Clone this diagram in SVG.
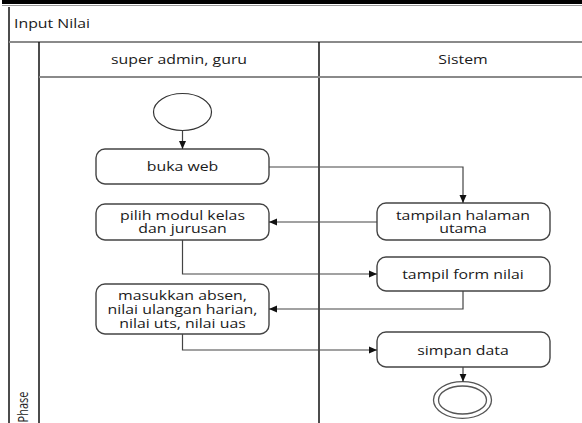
<svg xmlns="http://www.w3.org/2000/svg" width="582" height="423" viewBox="0 0 582 423">
<style>
.frame{stroke:#111;stroke-width:1.5;fill:none}
.sep{stroke:#8a8a8a;stroke-width:2;fill:none}
.box{fill:#fff;stroke:#444;stroke-width:1.4}
.conn{stroke:#444;stroke-width:1.2;fill:none}
.t{font-family:"Open Sans","Liberation Sans",sans-serif;font-size:13px;fill:#1a1a1a;text-anchor:middle}
.tl{font-family:"Open Sans","Liberation Sans",sans-serif;font-size:13px;fill:#1a1a1a}
</style>
<defs>
<marker id="ah" viewBox="0 0 8 8" refX="8" refY="4" markerWidth="8" markerHeight="8" markerUnits="userSpaceOnUse" orient="auto">
<path d="M0,0.5 L8,4 L0,7.5 Z" fill="#111"/>
</marker>
</defs>
<g id="frame">
<rect x="2" y="0" width="580" height="4" fill="#000"/>
<line x1="2" y1="5.5" x2="582" y2="5.5" stroke="#999" stroke-width="1"/>
<line class="frame" x1="9" y1="7" x2="9" y2="423"/>
<line class="sep" x1="9" y1="42" x2="582" y2="42"/>
<line class="frame" x1="39" y1="42" x2="39" y2="423"/>
<line class="frame" x1="319" y1="42" x2="319" y2="423"/>
<line class="sep" x1="39" y1="77" x2="582" y2="77"/>
<text class="tl" transform="matrix(1.22,0,0,1,14,28)">Input Nilai</text>
<text class="t" transform="matrix(1.22,0,0,1,179,64)">super admin, guru</text>
<text class="t" transform="matrix(1.22,0,0,1,463,64)">Sistem</text>
<text class="t" style="font-size:11px" transform="translate(28,407) scale(1.28,1) rotate(-90)">Phase</text>
</g>
<g id="start">
<ellipse cx="182.5" cy="112" rx="29" ry="18.5" fill="#fff" stroke="#333" stroke-width="1.2"/>
</g>
<g id="buka-web">
<rect class="box" x="96" y="149" width="173" height="35" rx="9"/>
<text class="t" transform="matrix(1.22,0,0,1,182.5,171)">buka web</text>
</g>
<g id="pilih-modul">
<rect class="box" x="96" y="204" width="173" height="36" rx="9"/>
<text class="t" transform="matrix(1.22,0,0,1,182.5,219.5)">pilih modul kelas</text>
<text class="t" transform="matrix(1.22,0,0,1,182.5,233)">dan jurusan</text>
</g>
<g id="tampilan-halaman">
<rect class="box" x="377" y="203" width="173" height="37" rx="9"/>
<text class="t" transform="matrix(1.22,0,0,1,463,219.5)">tampilan halaman</text>
<text class="t" transform="matrix(1.22,0,0,1,463,233)">utama</text>
</g>
<g id="tampil-form">
<rect class="box" x="377" y="257" width="173" height="34" rx="9"/>
<text class="t" transform="matrix(1.22,0,0,1,463,278.5)">tampil form nilai</text>
</g>
<g id="masukkan">
<rect class="box" x="96" y="284" width="173" height="50" rx="9"/>
<text class="t" transform="matrix(1.22,0,0,1,182.5,299.5)">masukkan absen,</text>
<text class="t" transform="matrix(1.22,0,0,1,182.5,313.5)">nilai ulangan harian,</text>
<text class="t" transform="matrix(1.22,0,0,1,182.5,327.5)">nilai uts, nilai uas</text>
</g>
<g id="simpan-data">
<rect class="box" x="377" y="332" width="173" height="35" rx="9"/>
<text class="t" transform="matrix(1.22,0,0,1,463,354.5)">simpan data</text>
</g>
<g id="end">
<ellipse cx="462.5" cy="400" rx="29" ry="18.3" fill="#fff" stroke="#555" stroke-width="1.3"/>
<ellipse cx="462.5" cy="400" rx="24" ry="14" fill="#fff" stroke="#555" stroke-width="1.3"/>
</g>
<g id="connectors">
<path class="conn" d="M182.5,130.5 V149" marker-end="url(#ah)"/>
<path class="conn" d="M269,167 H463 V203" marker-end="url(#ah)"/>
<path class="conn" d="M377,222 H269" marker-end="url(#ah)"/>
<path class="conn" d="M182.5,240 V274 H377" marker-end="url(#ah)"/>
<path class="conn" d="M463,291 V309 H269" marker-end="url(#ah)"/>
<path class="conn" d="M182.5,334 V350 H377" marker-end="url(#ah)"/>
<path class="conn" d="M463,367 V381.7" marker-end="url(#ah)"/>
</g>
</svg>
